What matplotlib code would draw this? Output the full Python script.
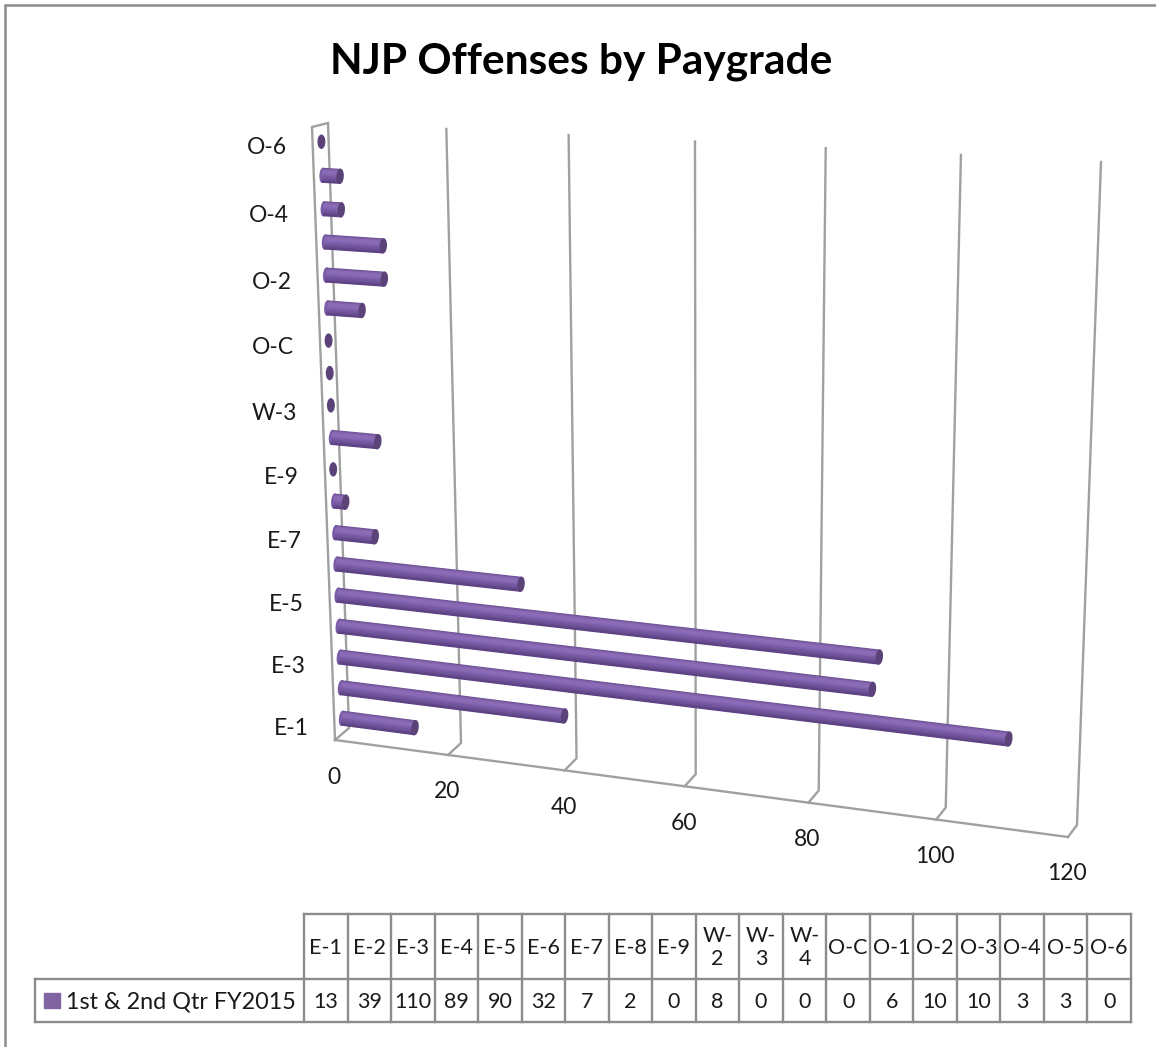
import numpy as np
import matplotlib
matplotlib.use('Agg')
import matplotlib.pyplot as plt
from matplotlib.patches import Ellipse, Rectangle
from matplotlib.colors import to_rgb

plt.rcParams['font.family'] = ['Lato', 'DejaVu Sans']

# Data
categories = ['E-1', 'E-2', 'E-3', 'E-4', 'E-5', 'E-6', 'E-7', 'E-8', 'E-9', 'W-2',
              'W-3', 'W-4', 'O-C', 'O-1', 'O-2', 'O-3', 'O-4', 'O-5', 'O-6']
values = [13, 39, 110, 89, 90, 32, 7, 2, 0, 8, 0, 0, 0, 6, 10, 10, 3, 3, 0]
value_ticks = [0, 20, 40, 60, 80, 100, 120]
series_name = '1st & 2nd Qtr FY2015'
title = 'NJP Offenses by Paygrade'

W, H = 1156, 1047
VMAX = value_ticks[-1]
GRID = '#a0a0a0'
FRAME = '#8c8c8c'
TEXT = '#1a1a1a'
PURPLE = '#8064a2'
CAP = '#5b4279'


def homography(corners):
    # corners for (v,h) = (0,0), (1,0), (0,1), (1,1)
    src = [(0, 0), (1, 0), (0, 1), (1, 1)]
    A, b = [], []
    for (u, v), (x, y) in zip(src, corners):
        A.append([u, v, 1, 0, 0, 0, -u * x, -v * x])
        A.append([0, 0, 0, u, v, 1, -u * y, -v * y])
        b += [x, y]
    return np.append(np.linalg.solve(np.array(A, float), np.array(b, float)), 1).reshape(3, 3)


# the 3D box as it sits in the picture, pixel coords
H_front = homography([(335, 740), (1068, 837), (312, 127), (1086, 167)])
H_back = homography([(349, 728), (1077, 825), (328, 123), (1101, 162)])


def project(value, h, depth):
    # depth 0 = front of the floor, 1 = back wall
    out = []
    for M in (H_front, H_back):
        p = M @ np.array([value / VMAX, h, 1.0])
        out.append(p[:2] / p[2])
    return out[0] * (1 - depth) + out[1] * depth


fig = plt.figure(figsize=(W / 100, H / 100), dpi=100)
ax = fig.add_axes([0, 0, 1, 1])
ax.set_xlim(0, W)
ax.set_ylim(H, 0)
ax.axis('off')

# outer frame of the chart area
ax.plot([5, 5, W], [H, 5, 5], color=FRAME, lw=1.8, solid_joinstyle='miter')

ax.text(581, 62, title, fontsize=30.5, fontweight='bold', color='black', ha='center', va='center')


def line3d(points, **kw):
    pts = np.array(points)
    ax.plot(pts[:, 0], pts[:, 1], color=GRID, solid_joinstyle='miter', **kw)


# walls and gridlines
line3d([project(0, 0, 0), project(0, 1, 0), project(0, 1, 1), project(0, 0, 1), project(0, 0, 0)], lw=1.7)
line3d([project(0, 0, 0), project(VMAX, 0, 0)], lw=1.7)
for v in value_ticks[1:]:
    line3d([project(v, 0, 0), project(v, 0, 1), project(v, 1, 1)], lw=1.7)

for v in value_ticks:
    x, y = project(v, 0, 0)
    ax.text(x - 1, y + 37, str(v), fontsize=16.5, color=TEXT, ha='center', va='center')

# bars, back to front
n = len(categories)
radius = 7
shades = np.array([to_rgb(c) for c in ['#6a5090', '#8a6ab5', '#8c6cb8', '#7a5ca6', '#6e5298', '#5a4080']])
stops = np.linspace(0, 1, len(shades))
edges = np.linspace(-1, 1, 15)
for i in range(n - 1, -1, -1):
    h = (i + 0.5) / n
    p0 = project(0, h, 0.55)
    if values[i] == 0:
        ax.add_patch(Ellipse(p0, 6.5, 13, color=CAP, zorder=3))
        continue
    p1 = project(values[i], h, 0.55)
    d = (p1 - p0) / np.hypot(*(p1 - p0))
    nrm = np.array([-d[1], d[0]])
    ang = np.degrees(np.arctan2(d[1], d[0]))
    ax.add_patch(Ellipse(p0, 5, 2 * radius, angle=ang, color='#7a5ca6', zorder=3))
    for a, b in zip(edges[:-1], edges[1:]):
        t = (a + b) / 4 + 0.5
        col = [np.interp(t, stops, shades[:, k]) for k in range(3)]
        q = np.array([p0 + nrm * radius * a, p1 + nrm * radius * a, p1 + nrm * radius * b, p0 + nrm * radius * b])
        ax.fill(q[:, 0], q[:, 1], facecolor=col, edgecolor=col, lw=0.8, zorder=3)
    ax.add_patch(Ellipse(p1, 6, 2 * radius, angle=ang, color=CAP, zorder=4))

# every second category label on the axis
for i in range(0, n, 2):
    x, y = project(0, (i + 0.5) / n, 0)
    ax.text(x - 26, y + 4, categories[i], fontsize=16.5, color=TEXT, ha='right', va='center')

# data table
tx0, tx1, tx2 = 35, 304, 1131
ty0, ty1, ty2 = 914, 979, 1022
cw = (tx2 - tx1) / n
tlw = 1.7
ax.plot([tx1, tx2], [ty0, ty0], color=FRAME, lw=tlw)
ax.plot([tx0, tx2], [ty1, ty1], color=FRAME, lw=tlw)
ax.plot([tx0, tx2], [ty2, ty2], color=FRAME, lw=tlw)
ax.plot([tx0, tx0], [ty1, ty2], color=FRAME, lw=tlw)
for i in range(n + 1):
    x = tx1 + i * cw
    ax.plot([x, x], [ty0, ty2], color=FRAME, lw=tlw)
for i in range(n):
    xc = tx1 + (i + 0.5) * cw
    label = categories[i]
    if label.startswith('W'):
        label = label.replace('-', '-\n')
    ax.text(xc, (ty0 + ty1) / 2 + 1, label, fontsize=15.5, color=TEXT, ha='center', va='center', linespacing=1.15)
    ax.text(xc, (ty1 + ty2) / 2 + 1, str(values[i]), fontsize=15.5, color=TEXT, ha='center', va='center')
ax.add_patch(Rectangle((44, 993), 16, 15, color=PURPLE))
ax.text(66, (ty1 + ty2) / 2 + 1, series_name, fontsize=16.8, color=TEXT, ha='left', va='center')

fig.savefig('out.png', dpi=100)
